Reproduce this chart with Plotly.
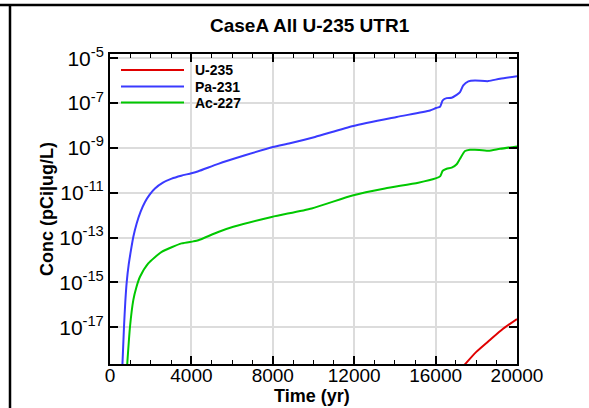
import plotly.graph_objects as go

# ---------------- data ----------------
title_text = "CaseA All U-235 UTR1"
series_names = ["U-235", "Pa-231", "Ac-227"]
series_colors = ["#e00000", "#3a3aff", "#00c800"]

u235_time = [17300, 18000, 18670, 19300, 20000]
u235_conc = [1.58e-19, 7.94e-19, 2.69e-18, 8.32e-18, 2.34e-17]

pa231_time = [600, 688, 750, 820, 920, 1030, 1150, 1310, 1500, 1720, 1950, 2210,
              2600, 3030, 3500, 4000, 4340, 5320, 6635, 8000, 8845, 10075, 11960,
              14090, 15725, 16020, 16220, 16350, 16545, 16790, 17035, 17200, 17360,
              17610, 17935, 18590, 19165, 20000]
pa231_conc = [1.26e-19, 1.05e-17, 1.26e-16, 1.0e-15, 6.3e-15, 2.75e-14, 1.12e-13,
              4.27e-13, 1.41e-12, 3.89e-12, 8.32e-12, 1.55e-11, 2.82e-11, 4.27e-11,
              5.75e-11, 7.41e-11, 9.12e-11, 1.95e-10, 4.68e-10, 1.10e-9, 1.62e-9,
              3.09e-9, 9.55e-9, 2.40e-8, 4.68e-8, 6.03e-8, 6.92e-8, 1.32e-7, 1.66e-7,
              1.74e-7, 2.34e-7, 3.09e-7, 6.17e-7, 9.33e-7, 1.02e-6, 9.55e-7, 1.23e-6,
              1.58e-6]

ac227_time = [820, 983, 1145, 1300, 1474, 1880, 2540, 3520, 4095, 4340, 5320, 6060,
              7945, 9910, 11960, 13510, 15150, 16000, 16220, 16350, 16545, 16790,
              17035, 17200, 17445, 17690, 17935, 18590, 19165, 20000]
ac227_conc = [1.0e-19, 1.05e-17, 1.62e-16, 6.3e-16, 1.78e-15, 7.08e-15, 2.29e-14,
              5.50e-14, 6.76e-14, 7.59e-14, 1.78e-13, 3.02e-13, 8.32e-13, 2.00e-12,
              7.76e-12, 1.55e-11, 2.82e-11, 4.37e-11, 5.37e-11, 9.55e-11, 1.17e-10,
              1.32e-10, 1.86e-10, 3.31e-10, 7.24e-10, 8.32e-10, 8.32e-10, 7.41e-10,
              9.12e-10, 1.17e-9]

x_tickvals = [0, 4000, 8000, 12000, 16000, 20000]
x_ticktext = ["0", "4000", "8000", "12000", "16000", "20000"]
y_tickvals = [1e-5, 1e-7, 1e-9, 1e-11, 1e-13, 1e-15, 1e-17]
y_ticktext = ["10<sup>-5</sup>", "10<sup>-7</sup>", "10<sup>-9</sup>", "10<sup>-11</sup>",
              "10<sup>-13</sup>", "10<sup>-15</sup>", "10<sup>-17</sup>"]
x_title = "Time (yr)"
y_title = "Conc (pCi|ug/L)"

# ---------------- figure ----------------
FONT = "Liberation Sans, Arial, sans-serif"
fig = go.Figure()
all_series = [(u235_time, u235_conc), (pa231_time, pa231_conc), (ac227_time, ac227_conc)]
for (t, c), name, col in zip(all_series, series_names, series_colors):
    fig.add_trace(go.Scatter(x=t, y=c, mode="lines", name=name,
                             line=dict(color=col, width=2, shape="spline", smoothing=0.6),
                             showlegend=False, hoverinfo="skip"))

W, H = 589, 408
L, R, T, B = 110, 72, 54, 44
pw, ph = W - L - R, H - T - B

def px_x(px):
    return (px - L) / pw

def px_y(py):
    return (H - B - py) / ph

axis_common = dict(showline=True, linecolor="black", linewidth=2, mirror="allticks",
                   ticks="inside", ticklen=8, tickwidth=1.5, tickcolor="black",
                   showgrid=True, gridcolor="#dcdcdc", gridwidth=1.5, zeroline=False)

fig.update_xaxes(range=[0, 20000], tickvals=x_tickvals, ticktext=x_ticktext,
                 tickfont=dict(family=FONT, size=19, color="black"),
                 ticklabelstandoff=-7,
                 minor=dict(dtick=1000, ticks="inside", ticklen=4, tickwidth=1.2,
                            tickcolor="black", showgrid=False),
                 **axis_common)
fig.update_yaxes(type="log", range=[-18.64, -4.81], tickvals=y_tickvals,
                 ticktext=y_ticktext,
                 tickfont=dict(family=FONT, size=21, color="black"),
                 **axis_common)

annotations = []
# title
annotations.append(dict(text="<b>" + title_text + "</b>", x=px_x(310), y=px_y(25),
                        xref="paper", yref="paper", showarrow=False,
                        xanchor="center", yanchor="middle",
                        font=dict(family=FONT, size=19, color="black")))
# axis titles
annotations.append(dict(text="<b>" + x_title + "</b>", x=px_x(312), y=px_y(396),
                        xref="paper", yref="paper", showarrow=False,
                        xanchor="center", yanchor="middle",
                        font=dict(family=FONT, size=18, color="black")))
annotations.append(dict(text="<b>" + y_title + "</b>", x=px_x(47), y=px_y(209),
                        xref="paper", yref="paper", showarrow=False, textangle=-90,
                        xanchor="center", yanchor="middle",
                        font=dict(family=FONT, size=18, color="black")))

shapes = []
# manual legend
legend_rows = [70, 86.5, 102.5]
for name, col, ry in zip(series_names, series_colors, legend_rows):
    shapes.append(dict(type="line", xref="paper", yref="paper",
                       x0=px_x(121), x1=px_x(184), y0=px_y(ry), y1=px_y(ry),
                       line=dict(color=col, width=2)))
    annotations.append(dict(text="<b>" + name + "</b>", x=px_x(193), y=px_y(ry),
                            xref="paper", yref="paper", showarrow=False,
                            xanchor="left", yanchor="middle",
                            font=dict(family=FONT, size=14, color="black")))

# outer frame lines (top and left)
shapes.append(dict(type="line", xref="paper", yref="paper",
                   x0=px_x(0), x1=px_x(W), y0=px_y(5), y1=px_y(5),
                   line=dict(color="black", width=2.5)))
shapes.append(dict(type="line", xref="paper", yref="paper",
                   x0=px_x(10), x1=px_x(10), y0=px_y(5), y1=px_y(H + 2),
                   line=dict(color="black", width=2.5)))

fig.update_layout(width=W, height=H, margin=dict(l=L, r=R, t=T, b=B, autoexpand=False),
                  paper_bgcolor="white", plot_bgcolor="white",
                  showlegend=False, annotations=annotations, shapes=shapes,
                  hovermode=False)

fig.write_html("out.html", config=dict(displayModeBar=False),
               post_script="document.body.style.margin='0';document.body.style.overflow='hidden';")
